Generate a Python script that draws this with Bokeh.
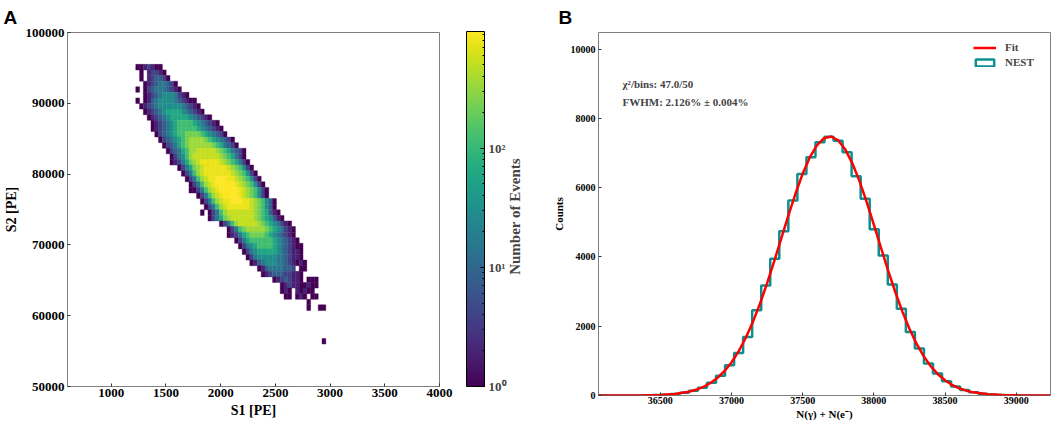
from bokeh.plotting import figure
from bokeh.layouts import row
from bokeh.models import (ColumnDataSource, ColorBar, LogColorMapper, LogTicker, FixedTicker,
                          CustomJSTickFormatter, BasicTickFormatter, Label, Legend, LegendItem)
from bokeh.palettes import Viridis256
from bokeh.transform import log_cmap
from bokeh.embed import file_html
from bokeh.resources import INLINE

# ---------------- Panel A data (2D histogram S1 vs S2) ----------------
S1_FIRST_EDGE = 1224.0
S1_BIN_WIDTH = 34.74
S2_TOP_EDGE = 95500.0
S2_BIN_HEIGHT = 790.0
LEVEL_COUNTS = {"1": 1, "2": 2, "3": 4, "4": 8, "5": 15, "6": 30, "7": 60, "8": 120,
                "9": 220, "A": 350, "B": 520, "C": 780, "D": 930}
# (row index from top, first column, per-cell count level; '.' = empty)
HIST2D_ROWS = [
    (0, 0, "1123211"),
    (1, 1, "1.23321"),
    (2, 1, "1.234431"),
    (3, 2, "123455431"),
    (4, 0, "1.1345554321"),
    (5, 2, "123456665321"),
    (6, 0, "1.12456666543211"),
    (7, 1, "1234566666654321"),
    (8, 2, "1234567777654321"),
    (9, 3, "12345677777654321"),
    (10, 4, "123456788887654321"),
    (11, 4, "1234567888887654321"),
    (12, 5, "1345678899998765431"),
    (13, 6, "13456789AAAA98765431"),
    (14, 7, "1345789AAAAAA9875431"),
    (15, 8, "134578AABBBBBA9875431"),
    (16, 9, "13568ABBBBBBBA987531"),
    (17, 9, "123579ABCCCCCBA987531"),
    (18, 11, "13579ABCCCCCCBA98631"),
    (19, 12, "1358ABCCCCCCCBA98631"),
    (20, 13, "1358ABCCDDDCCBA98631"),
    (21, 14, "1358ABCDDDDDCBA98631"),
    (22, 14, "11358ABCDDDDDCBA98631"),
    (23, 16, "1358ABCDDDDCBA98631"),
    (24, 17, "1358ABCCDDDCCBA98641"),
    (25, 18, "1358ABCCCCCCBA98641"),
    (26, 17, "1.1358ABBBBBBBA987421"),
    (27, 19, "13579ABBBBBBA9876421"),
    (28, 22, "1358ABBBBBA98765321"),
    (29, 24, "13589AAAAA98765321"),
    (30, 24, "123578999987654321"),
    (31, 26, "13578888887654321"),
    (32, 27, "13567888876543211"),
    (33, 28, "1356777776543221"),
    (34, 29, "135666665543221"),
    (35, 30, "124566655432121"),
    (36, 32, "1245555443.11"),
    (37, 33, "12344433221"),
    (38, 36, "12343221.111"),
    (39, 38, "1232211211"),
    (40, 38, "121.21211"),
    (41, 39, "11.121.11"),
    (42, 45, "1"),
    (43, 45, "1..11"),
    (49, 49, "1"),
]
S1_TICKS = [1000, 1500, 2000, 2500, 3000, 3500, 4000]
S2_TICKS = [50000, 60000, 70000, 80000, 90000, 100000]

# ---------------- Panel B data (NEST histogram + fit) ----------------
HIST_FIRST_EDGE = 36066.0
HIST_BIN_WIDTH = 63.5
NEST_COUNTS = [0, 0, 1, 1, 3, 6, 12, 24, 44, 79, 136, 227, 367, 570, 870,
               1229, 1690, 2458, 3179, 3948, 4744, 5628, 6398, 6877, 7309, 7473, 7357,
               7021, 6329, 5677, 4801, 4043, 3207, 2507, 1833, 1354, 922,
               636, 412, 258, 156, 91, 51, 28, 15, 7, 4, 2, 1, 0]
FIT_X = [36066, 36100, 36200, 36300, 36400, 36500, 36600, 36700, 36750, 36800, 36850,
         36900, 36950, 37000, 37050, 37100, 37150, 37200, 37250, 37300, 37350, 37400,
         37450, 37500, 37550, 37600, 37650, 37700, 37750, 37800, 37850, 37900, 37950,
         38000, 38050, 38100, 38150, 38200, 38250, 38300, 38350, 38400, 38450, 38500,
         38550, 38600, 38650, 38700, 38800, 38900, 39000, 39100, 39200, 39241]
FIT_Y = [0.0, 0.1, 0.5, 1.8, 5.6, 16.4, 43.8, 107.9, 164, 243, 354,
         503, 700, 954, 1272, 1660, 2119, 2648, 3237, 3874, 4537, 5199,
         5831, 6399, 6872, 7223, 7428, 7477, 7365, 7099, 6696, 6182, 5584,
         4936, 4270, 3615, 2995, 2429, 1927, 1496, 1137, 845, 615, 439,
         305, 208, 139, 90.7, 36.3, 13.3, 4.5, 1.4, 0.4, 0.2]
B_X_TICKS = [36500, 37000, 37500, 38000, 38500, 39000]
B_Y_TICKS = [0, 2000, 4000, 6000, 8000, 10000]

FONT = "Liberation Serif"
TEAL = "#0e8f8f"

# ---------------- build cells ----------------
left, right, top, bottom, counts = [], [], [], [], []
for r, c0, levels in HIST2D_ROWS:
    for k, ch in enumerate(levels):
        if ch == ".":
            continue
        c = c0 + k
        l = S1_FIRST_EDGE + c * S1_BIN_WIDTH
        t = S2_TOP_EDGE - r * S2_BIN_HEIGHT
        left.append(l)
        right.append(l + S1_BIN_WIDTH)
        top.append(t)
        bottom.append(t - S2_BIN_HEIGHT)
        counts.append(LEVEL_COUNTS[ch])
src2d = ColumnDataSource(dict(left=left, right=right, top=top, bottom=bottom, count=counts))


def style(p, tick_size, label_size):
    p.grid.visible = False
    p.outline_line_color = "#808080"
    p.outline_line_width = 1
    p.background_fill_color = "white"
    for ax in (p.xaxis, p.yaxis):
        ax.axis_line_color = None
        ax.major_tick_in = 3
        ax.major_tick_out = 0
        ax.minor_tick_line_color = None
        ax.major_tick_line_color = "#333333"
        ax.major_label_text_font = FONT
        ax.major_label_text_font_style = "bold"
        ax.major_label_text_font_size = tick_size
        ax.major_label_text_color = "black"
        ax.axis_label_text_font = FONT
        ax.axis_label_text_font_style = "bold"
        ax.axis_label_text_font_size = label_size
        ax.axis_label_text_color = "black"


def panel_title(p, text, offset):
    p.title.text = text
    p.title.align = "left"
    p.title.offset = offset
    p.title.standoff = 9
    p.title.text_font = "Liberation Sans"
    p.title.text_font_style = "bold"
    p.title.text_font_size = "19px"
    p.title.text_color = "black"


# ---------------- Panel A ----------------
pA = figure(width=507, height=421, x_range=(600, 4000), y_range=(50000, 100000),
            output_backend="svg", toolbar_location=None,
            min_border_left=63, min_border_right=68, min_border_top=31, min_border_bottom=35)
cmap = log_cmap("count", Viridis256, 1, 950)
pA.quad(left="left", right="right", top="top", bottom="bottom", source=src2d,
        fill_color=cmap, line_color=cmap, line_width=0.4)
style(pA, "13px", "14px")
pA.xaxis.major_label_standoff = 2
pA.yaxis.major_label_standoff = 3
pA.xaxis.axis_label_standoff = 3
pA.yaxis.axis_label_standoff = 4
pA.xaxis.ticker = FixedTicker(ticks=S1_TICKS)
pA.yaxis.ticker = FixedTicker(ticks=S2_TICKS)
pA.yaxis.formatter = BasicTickFormatter(use_scientific=False)
pA.xaxis.axis_label = "S1 [PE]"
pA.yaxis.axis_label = "S2 [PE]"
panel_title(pA, "A", -64)

mapper = LogColorMapper(palette=Viridis256, low=1, high=950)
fmt = CustomJSTickFormatter(code="""
const e = Math.round(Math.log10(tick));
const sup = {"0": "\\u2070", "1": "\\u00b9", "2": "\\u00b2", "3": "\\u00b3"};
return "10" + (sup[String(e)] || "");
""")
cb = ColorBar(color_mapper=mapper, location=(399, 0), width=18, height=355,
              padding=0, margin=0, ticker=LogTicker(num_minor_ticks=10), formatter=fmt,
              major_label_text_font=FONT, major_label_text_font_style="bold",
              major_label_text_font_size="13px", major_tick_in=4, major_tick_out=0,
              major_tick_line_color="black", minor_tick_in=2, minor_tick_out=0,
              minor_tick_line_color="black", bar_line_color="black",
              background_fill_color=None, label_standoff=4)
pA.add_layout(cb)

# narrow strip carrying the colour-bar caption (reads bottom to top)
pCap = figure(width=23, height=421, x_range=(0, 1), y_range=(0, 1),
              x_axis_location=None, y_axis_location=None, min_border=0,
              output_backend="svg", toolbar_location=None, outline_line_color=None)
pCap.grid.visible = False
pCap.add_layout(Label(x=7, y=170, x_units="screen", y_units="screen", text="Number of Events",
                      angle=90, angle_units="deg", text_align="center", text_baseline="middle",
                      text_font=FONT, text_font_style="bold", text_font_size="15px"))

# ---------------- Panel B ----------------
pB = figure(frame_width=452, frame_height=363, x_range=(36066, 39241), y_range=(0, 10480),
            output_backend="svg", toolbar_location=None,
            min_border_left=68, min_border_right=2, min_border_top=32, min_border_bottom=26)
edges = [HIST_FIRST_EDGE + i * HIST_BIN_WIDTH for i in range(len(NEST_COUNTS) + 1)]
pB.step(x=edges, y=NEST_COUNTS + [0], mode="after", line_color=TEAL, line_width=2.5)
# legend swatch for the NEST histogram: first (empty) bin drawn as an outlined box
nest_box = pB.quad(left=[edges[0]], right=[edges[1]], top=[NEST_COUNTS[0]], bottom=[0],
                   fill_alpha=0, line_color=TEAL, line_width=2.5)
fit_r = pB.line(x=FIT_X, y=FIT_Y, line_color="red", line_width=2.5)
style(pB, "10px", "11px")
pB.xaxis.major_label_standoff = 1
pB.yaxis.major_label_standoff = 3
pB.xaxis.axis_label_standoff = 1
pB.yaxis.axis_label_standoff = 3
pB.xaxis.ticker = FixedTicker(ticks=B_X_TICKS)
pB.yaxis.ticker = FixedTicker(ticks=B_Y_TICKS)
pB.yaxis.formatter = BasicTickFormatter(use_scientific=False)
pB.xaxis.axis_label = "N(\u03b3) + N(e\u207b)"
pB.yaxis.axis_label = "Counts"
panel_title(pB, "B", -40)

legend = Legend(items=[LegendItem(label="Fit", renderers=[fit_r]),
                       LegendItem(label="NEST", renderers=[nest_box])],
                location=(375, 327), margin=0, padding=5, spacing=3,
                glyph_width=23, glyph_height=9, label_standoff=9,
                label_text_font=FONT, label_text_font_style="bold", label_text_font_size="11px",
                border_line_color=None, background_fill_alpha=0)
pB.add_layout(legend)
pB.add_layout(Label(x=24, y=312, x_units="screen", y_units="screen",
                    text="\u03c7\u00b2/bins: 47.0/50", text_baseline="middle",
                    text_font=FONT, text_font_style="bold", text_font_size="11px"))
pB.add_layout(Label(x=24, y=294, x_units="screen", y_units="screen",
                    text="FWHM: 2.126% \u00b1 0.004%", text_baseline="middle",
                    text_font=FONT, text_font_style="bold", text_font_size="11px"))

layout = row(pA, pCap, pB)
open("out.html", "w").write(file_html(layout, INLINE))
